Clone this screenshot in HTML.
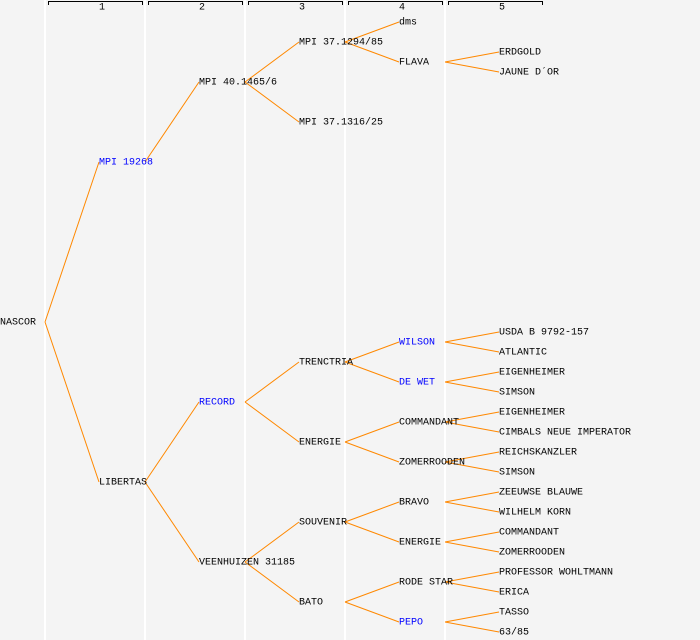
<!DOCTYPE html>
<html><head><style>
html,body{margin:0;padding:0;background:#f4f4f4;}
svg{display:block}
text{font-family:"Liberation Mono",monospace;font-size:10px;dominant-baseline:middle}
</style></head><body>
<svg width="700" height="640" xmlns="http://www.w3.org/2000/svg">
<rect width="700" height="640" fill="#f4f4f4"/>
<g stroke="#ffffff" stroke-width="2">
<line x1="45" y1="0" x2="45" y2="640"/><line x1="145" y1="0" x2="145" y2="640"/><line x1="245" y1="0" x2="245" y2="640"/><line x1="345" y1="0" x2="345" y2="640"/><line x1="445" y1="0" x2="445" y2="640"/>
</g>
<g stroke="#000" fill="none" stroke-width="1">
<path d="M48.5 5V1.5H142.5V5"/><path d="M148.5 5V1.5H242.5V5"/><path d="M248.5 5V1.5H342.5V5"/><path d="M348.5 5V1.5H442.5V5"/><path d="M448.5 5V1.5H542.5V5"/>
</g>
<g style="font-size:8px" text-anchor="middle">
<text x="102" y="7">1</text><text x="202" y="7">2</text><text x="302" y="7">3</text><text x="402" y="7">4</text><text x="502" y="7">5</text>
</g>
<g stroke="#ff8800" stroke-width="1" fill="none">
<path d="M45 322L99 162M45 322L99 482"/>
<path d="M145 162L199 82M145 482L199 402M145 482L199 562"/>
<path d="M245 82L299 42M245 82L299 122M245 402L299 362M245 402L299 442M245 562L299 522M245 562L299 602"/>
<path d="M345 42L399 22M345 42L399 62M345 362L399 342M345 362L399 382M345 442L399 422M345 442L399 462M345 522L399 502M345 522L399 542M345 602L399 582M345 602L399 622"/>
<path d="M445 62L499 52M445 62L499 72M445 342L499 332M445 342L499 352M445 382L499 372M445 382L499 392M445 422L499 412M445 422L499 432M445 462L499 452M445 462L499 472M445 502L499 492M445 502L499 512M445 542L499 532M445 542L499 552M445 582L499 572M445 582L499 592M445 622L499 612M445 622L499 632"/>
</g>
<g fill="#000">
<text x="0" y="322">NASCOR</text>
<text x="99" y="162" fill="#0000ff">MPI 19268</text>
<text x="99" y="482">LIBERTAS</text>
<text x="199" y="82">MPI 40.1465/6</text>
<text x="199" y="402" fill="#0000ff">RECORD</text>
<text x="199" y="562">VEENHUIZEN 31185</text>
<text x="299" y="42">MPI 37.1294/85</text>
<text x="299" y="122">MPI 37.1316/25</text>
<text x="299" y="362">TRENCTRIA</text>
<text x="299" y="442">ENERGIE</text>
<text x="299" y="522">SOUVENIR</text>
<text x="299" y="602">BATO</text>
<text x="399" y="22">dms</text>
<text x="399" y="62">FLAVA</text>
<text x="399" y="342" fill="#0000ff">WILSON</text>
<text x="399" y="382" fill="#0000ff">DE WET</text>
<text x="399" y="422">COMMANDANT</text>
<text x="399" y="462">ZOMERROODEN</text>
<text x="399" y="502">BRAVO</text>
<text x="399" y="542">ENERGIE</text>
<text x="399" y="582">RODE STAR</text>
<text x="399" y="622" fill="#0000ff">PEPO</text>
<text x="499" y="52">ERDGOLD</text>
<text x="499" y="72">JAUNE D´OR</text>
<text x="499" y="332">USDA B 9792-157</text>
<text x="499" y="352">ATLANTIC</text>
<text x="499" y="372">EIGENHEIMER</text>
<text x="499" y="392">SIMSON</text>
<text x="499" y="412">EIGENHEIMER</text>
<text x="499" y="432">CIMBALS NEUE IMPERATOR</text>
<text x="499" y="452">REICHSKANZLER</text>
<text x="499" y="472">SIMSON</text>
<text x="499" y="492">ZEEUWSE BLAUWE</text>
<text x="499" y="512">WILHELM KORN</text>
<text x="499" y="532">COMMANDANT</text>
<text x="499" y="552">ZOMERROODEN</text>
<text x="499" y="572">PROFESSOR WOHLTMANN</text>
<text x="499" y="592">ERICA</text>
<text x="499" y="612">TASSO</text>
<text x="499" y="632">63/85</text>
</g>
</svg>
</body></html>
